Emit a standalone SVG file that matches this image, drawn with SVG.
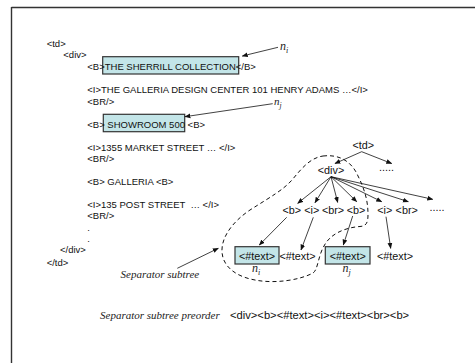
<svg xmlns="http://www.w3.org/2000/svg" width="475" height="363" viewBox="0 0 475 363">
<style>
.h{font-family:"Liberation Sans",Arial,sans-serif;font-size:9.5px;fill:#111;white-space:pre}
.t{font-family:"Liberation Sans",Arial,sans-serif;font-size:10.8px;fill:#111;text-anchor:middle}
.it{font-family:"Liberation Serif","Times New Roman",serif;font-style:italic;fill:#222}
.box{fill:#c3e5e8;stroke:#333;stroke-width:1.2}
.ln{stroke:#111;stroke-width:0.8;fill:none;marker-end:url(#ah)}
</style>
<defs>
<marker id="ah" viewBox="0 0 10 10" refX="9" refY="5" markerWidth="6" markerHeight="6" markerUnits="userSpaceOnUse" orient="auto">
<path d="M0,1 L10,5 L0,9 z" fill="#111"/>
</marker>
</defs>
<rect width="475" height="363" fill="#fff"/>
<g id="frame" stroke="#333" stroke-width="1.4">
<line x1="11.5" y1="7.5" x2="475" y2="7.5"/>
<line x1="11.5" y1="7" x2="11.5" y2="363"/>
</g>
<g id="html">
<rect class="box" x="102.7" y="56.7" width="136" height="17.3"/>
<rect class="box" x="103.3" y="114.3" width="81.4" height="17.4"/>
<text class="h" x="46.7" y="46.5">&lt;td&gt;</text>
<text class="h" x="63.3" y="57.5">&lt;div&gt;</text>
<text class="h" x="87.3" y="70">&lt;B&gt;THE SHERRILL COLLECTION&lt;/B&gt;</text>
<text class="h" x="87.3" y="93">&lt;I&gt;THE GALLERIA DESIGN CENTER 101 HENRY ADAMS …&lt;/I&gt;</text>
<text class="h" x="87.3" y="105">&lt;BR/&gt;</text>
<text class="h" x="87.3" y="128">&lt;B&gt; SHOWROOM 500 &lt;B&gt;</text>
<text class="h" x="87.3" y="150.5">&lt;I&gt;1355 MARKET STREET … &lt;/I&gt;</text>
<text class="h" x="87.3" y="161.5">&lt;BR/&gt;</text>
<text class="h" x="87.3" y="185">&lt;B&gt; GALLERIA &lt;B&gt;</text>
<text class="h" x="87.3" y="207.5">&lt;I&gt;135 POST STREET  … &lt;/I&gt;</text>
<text class="h" x="87.3" y="219">&lt;BR/&gt;</text>
<text class="h" x="87.3" y="230.5">.</text>
<text class="h" x="87.3" y="242">.</text>
<text class="h" x="60" y="253">&lt;/div&gt;</text>
<text class="h" x="46.7" y="265.5">&lt;/td&gt;</text>
</g>
<g id="labels">
<text class="it" x="280" y="50" font-size="12">n<tspan font-size="8" dy="3">i</tspan></text>
<text class="it" x="274" y="105" font-size="11">n<tspan font-size="7.5" dy="3">j</tspan></text>
<text class="it" x="120.5" y="277.5" font-size="11">Separator subtree</text>
<text class="it" x="100" y="318.5" font-size="11">Separator subtree preorder</text>
<text class="h" x="230" y="319" style="font-size:11.2px">&lt;div&gt;&lt;b&gt;&lt;#text&gt;&lt;i&gt;&lt;#text&gt;&lt;br&gt;&lt;b&gt;</text>
</g>
<g id="tree-td"><text class="t" x="363.3" y="148.5">&lt;td&gt;</text></g>
<g id="tree-div"><text class="t" x="331" y="173.5">&lt;div&gt;</text></g>
<g id="tree-dots1"><text class="t" x="386.5" y="171">.....</text></g>
<g id="tree-b1"><text class="t" x="291.7" y="213.5">&lt;b&gt;</text></g>
<g id="tree-i1"><text class="t" x="311.7" y="213.5">&lt;i&gt;</text></g>
<g id="tree-br1"><text class="t" x="333" y="213.5">&lt;br&gt;</text></g>
<g id="tree-b2"><text class="t" x="356" y="213.5">&lt;b&gt;</text></g>
<g id="tree-i2"><text class="t" x="384.7" y="213.5">&lt;i&gt;</text></g>
<g id="tree-br2"><text class="t" x="406.7" y="213.5">&lt;br&gt;</text></g>
<g id="tree-dots2"><text class="t" x="437" y="211">.....</text></g>
<g id="tree-ni"><rect class="box" x="235" y="246.7" width="44" height="17.3"/><text class="t" x="257" y="259.8">&lt;#text&gt;</text><text class="it" x="252" y="271.5" font-size="12">n<tspan font-size="8" dy="3">i</tspan></text></g>
<g id="tree-text2"><text class="t" x="297.5" y="259.8">&lt;#text&gt;</text></g>
<g id="tree-nj"><rect class="box" x="325.3" y="246.7" width="44.7" height="17.3"/><text class="t" x="347.7" y="259.8">&lt;#text&gt;</text><text class="it" x="342.5" y="271.5" font-size="12">n<tspan font-size="8" dy="3">j</tspan></text></g>
<g id="tree-text4"><text class="t" x="395" y="259.8">&lt;#text&gt;</text></g>
<g id="connectors">
<line class="ln" x1="278" y1="47.3" x2="242.3" y2="56"/>
<line class="ln" x1="272.7" y1="103.7" x2="185" y2="116.7"/>
<line class="ln" x1="177.3" y1="268.3" x2="218.3" y2="248.3"/>
<line class="ln" x1="361.7" y1="151.7" x2="335" y2="163.5"/>
<line class="ln" x1="361.7" y1="151.7" x2="391.7" y2="163.5"/>
<line class="ln" x1="331" y1="176.7" x2="297.7" y2="203.3"/>
<line class="ln" x1="331" y1="176.7" x2="315" y2="202.7"/>
<line class="ln" x1="331" y1="176.7" x2="337.7" y2="202.3"/>
<line class="ln" x1="331" y1="176.7" x2="356.7" y2="201.7"/>
<line class="ln" x1="331" y1="176.7" x2="381.7" y2="201.7"/>
<line class="ln" x1="331" y1="176.7" x2="408.3" y2="201.7"/>
<line class="ln" x1="331" y1="176.7" x2="432.7" y2="199.3"/>
<line class="ln" x1="286.7" y1="217.3" x2="259.3" y2="245"/>
<line class="ln" x1="313.3" y1="217.3" x2="301" y2="250"/>
<line class="ln" x1="352.7" y1="216" x2="343.3" y2="245"/>
<line class="ln" x1="386" y1="216.7" x2="390.7" y2="248.3"/>
<path d="M323 156 C340 154,352 162,358 176 C364 188,368 200,368 214 C368 222,367 226,360 226.5 C345 227.5,330 234,324 246 C318 256,318 270,313 273 C300 280,275 284,255 280 C238 277,223 268,222 252 C221 238,232 222,250 210 C272 196,283 190,292 180 C302 168,310 158,323 156 Z" fill="none" stroke="#111" stroke-width="1" stroke-dasharray="4,3"/>
</g>
</svg>
